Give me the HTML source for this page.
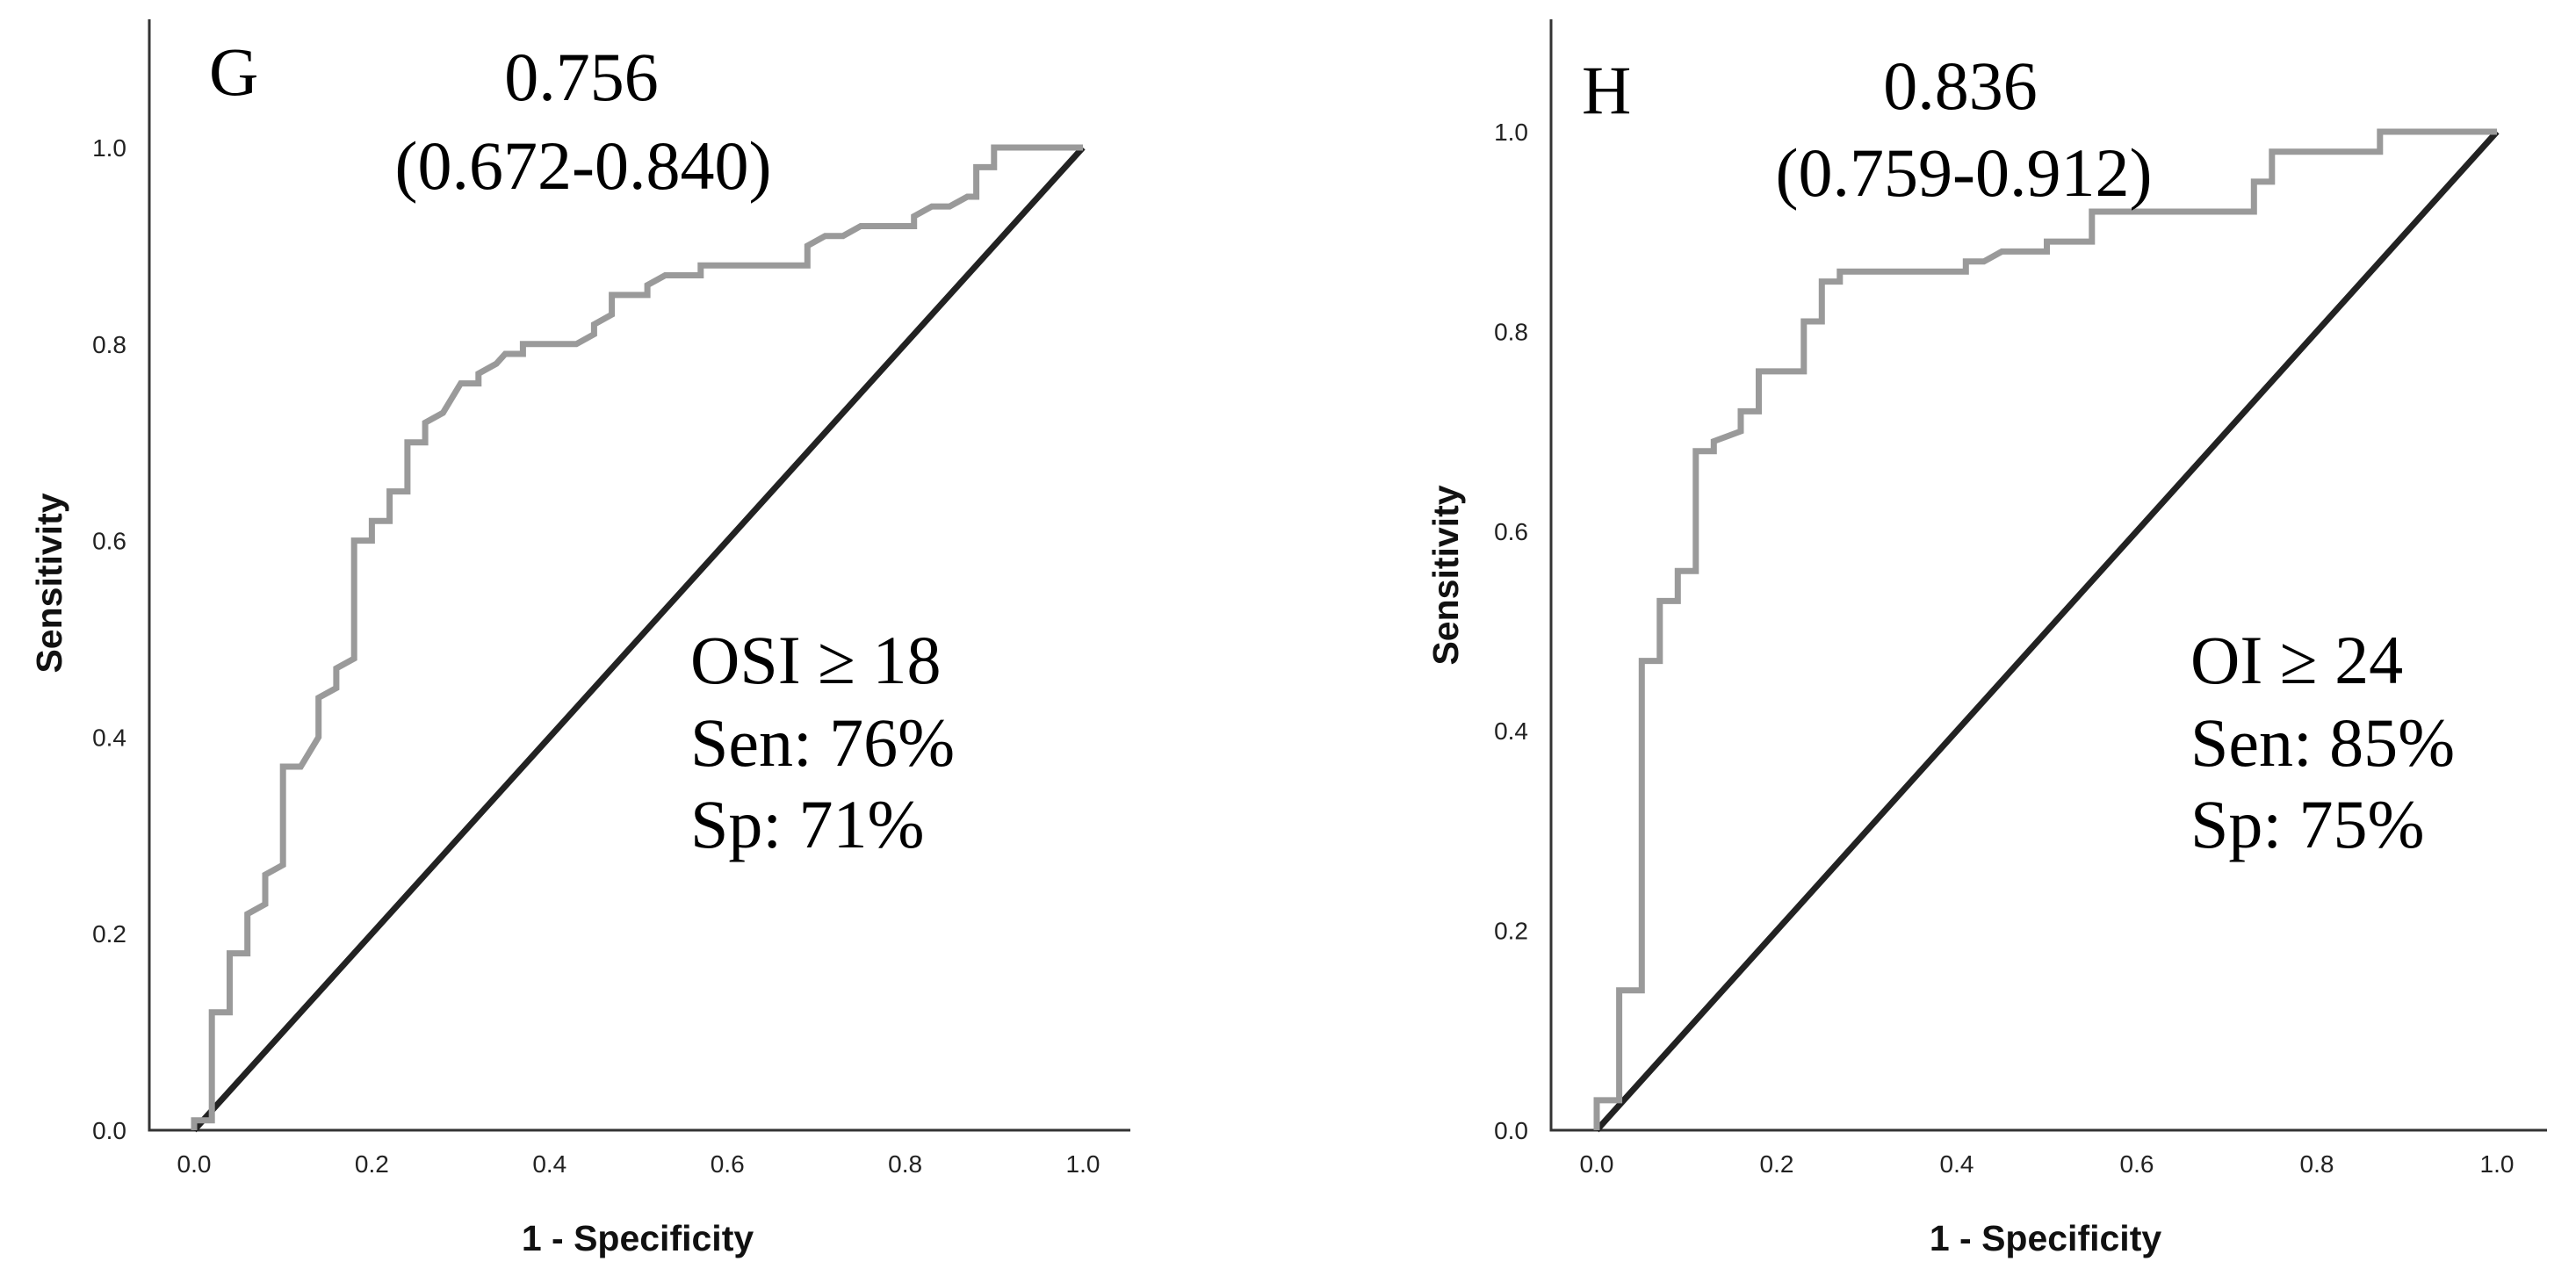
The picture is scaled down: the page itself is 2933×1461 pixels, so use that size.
<!DOCTYPE html>
<html><head><meta charset="utf-8"><style>
html,body{margin:0;padding:0;background:#fff;}
svg{display:block;}
.tick{font-family:"Liberation Sans",sans-serif;font-size:28px;fill:#222;}
.atitle{font-family:"Liberation Sans",sans-serif;font-size:41px;font-weight:bold;fill:#111;}
.ann{font-family:"Liberation Serif",serif;font-size:78px;fill:#000;}
</style></head><body>
<svg id="fig" width="2933" height="1461" viewBox="0 0 2933 1461"></svg>
<script>
const tickValues = [0.0, 0.2, 0.4, 0.6, 0.8, 1.0];
const tickLabels = ["0.0","0.2","0.4","0.6","0.8","1.0"];
const rocG_fpr = [0,0,0.02,0.02,0.04,0.04,0.06,0.06,0.08,0.08,0.10,0.10,0.12,0.14,0.14,0.16,0.16,0.18,0.18,0.20,0.20,0.22,0.22,0.24,0.24,0.26,0.26,0.28,0.30,0.32,0.32,0.34,0.35,0.37,0.37,0.43,0.45,0.45,0.47,0.47,0.51,0.51,0.53,0.57,0.57,0.69,0.69,0.71,0.73,0.75,0.81,0.81,0.83,0.85,0.87,0.88,0.88,0.90,0.90,1.0];
const rocG_tpr = [0,0.01,0.01,0.12,0.12,0.18,0.18,0.22,0.23,0.26,0.27,0.37,0.37,0.40,0.44,0.45,0.47,0.48,0.60,0.60,0.62,0.62,0.65,0.65,0.70,0.70,0.72,0.73,0.76,0.76,0.77,0.78,0.79,0.79,0.80,0.80,0.81,0.82,0.83,0.85,0.85,0.86,0.87,0.87,0.88,0.88,0.90,0.91,0.91,0.92,0.92,0.93,0.94,0.94,0.95,0.95,0.98,0.98,1.0,1.0];
const rocH_fpr = [0,0,0.025,0.025,0.05,0.05,0.07,0.07,0.09,0.09,0.11,0.11,0.13,0.13,0.16,0.16,0.18,0.18,0.23,0.23,0.25,0.25,0.27,0.27,0.41,0.41,0.43,0.45,0.50,0.50,0.55,0.55,0.73,0.73,0.75,0.75,0.87,0.87,1.0];
const rocH_tpr = [0,0.03,0.03,0.14,0.14,0.47,0.47,0.53,0.53,0.56,0.56,0.68,0.68,0.69,0.70,0.72,0.72,0.76,0.76,0.81,0.81,0.85,0.85,0.86,0.86,0.87,0.87,0.88,0.88,0.89,0.89,0.92,0.92,0.95,0.95,0.98,0.98,1.0,1.0];

const NS="http://www.w3.org/2000/svg";
const svg=document.getElementById('fig');
function mk(tag,attrs,parent){const e=document.createElementNS(NS,tag);for(const k in attrs)e.setAttribute(k,attrs[k]);(parent||svg).appendChild(e);return e;}

function panel(cfg){
  const g=mk('g',{});
  
  
  const sx=v=>cfg.x0+v*(cfg.x1-cfg.x0);
  const sy=v=>cfg.y0+v*(cfg.y1-cfg.y0);
  const ya=mk('line',{x1:cfg.ax,y1:cfg.atop,x2:cfg.ax,y2:cfg.ay,stroke:'#333','stroke-width':3},g);
  
  
  const xa=mk('line',{x1:cfg.ax-1.5,y1:cfg.ay,x2:cfg.aright,y2:cfg.ay,stroke:'#333','stroke-width':3},g);
  
  
  tickValues.forEach((v,i)=>{
    const t=mk('text',{x:sx(v),y:1335,'text-anchor':'middle',class:'tick'},g);t.textContent=tickLabels[i];
    
    
    const u=mk('text',{x:cfg.ax-26,y:sy(v)+10,'text-anchor':'end',class:'tick'},g);u.textContent=tickLabels[i];
    
    
  });
  const xt=mk('text',{x:cfg.xtx,y:1424,'text-anchor':'middle',class:'atitle'},g);xt.textContent='1 - Specificity';
  
  
  const yt=mk('text',{x:0,y:0,'text-anchor':'middle',class:'atitle',transform:`translate(${cfg.ytx},${cfg.yty}) rotate(-90)`},g);yt.textContent='Sensitivity';
  
  
  const d=mk('line',{x1:sx(0),y1:sy(0),x2:sx(1),y2:sy(1),stroke:'#222','stroke-width':7},g);
  
  
  const pts=cfg.fpr.map((f,i)=>sx(f).toFixed(1)+','+sy(cfg.tpr[i]).toFixed(1)).join(' ');
  const p=mk('polyline',{points:pts,fill:'none',stroke:'#9a9a9a','stroke-width':7,'stroke-linejoin':'miter'},g);
  
  
  cfg.ann.forEach(a=>{
    const t=mk('text',{x:a[1],y:a[2],'text-anchor':a[3],class:'ann'},g);t.textContent=a[0];
    
    
  });
}
panel({name:'panel-g',x0:221,x1:1233,y0:1287,y1:168,ax:170,ay:1287,atop:22,aright:1287,xtx:726,ytx:70,yty:664,
  fpr:rocG_fpr,tpr:rocG_tpr,
  ann:[['G',238,108,'start','panel-letter'],['0.756',662,114,'middle','auc-value'],['(0.672-0.840)',664,215,'middle','auc-ci'],
       ['OSI ≥ 18',786,778,'start','cutoff-label'],['Sen: 76%',786,872,'start','sensitivity-label'],['Sp: 71%',786,965,'start','specificity-label']]});
panel({name:'panel-h',x0:1818,x1:2843,y0:1287,y1:150,ax:1766,ay:1287,atop:22,aright:2900,xtx:2329,ytx:1660,yty:655,
  fpr:rocH_fpr,tpr:rocH_tpr,
  ann:[['H',1801,129,'start','panel-letter'],['0.836',2232,124,'middle','auc-value'],['(0.759-0.912)',2236,223,'middle','auc-ci'],
       ['OI ≥ 24',2494,778,'start','cutoff-label'],['Sen: 85%',2494,872,'start','sensitivity-label'],['Sp: 75%',2494,965,'start','specificity-label']]});
</script>
</body></html>
